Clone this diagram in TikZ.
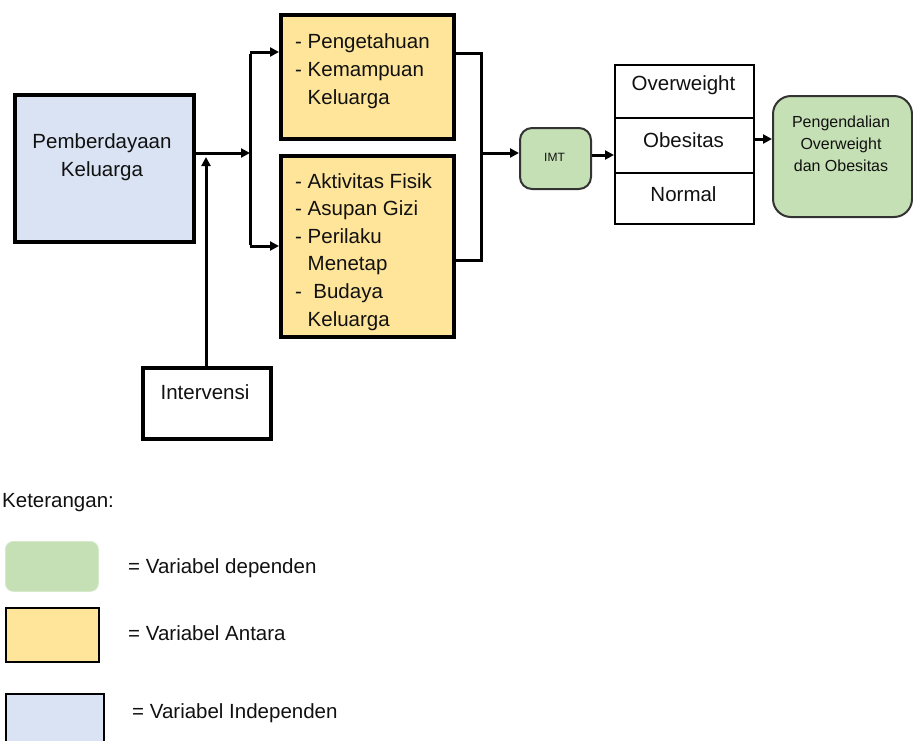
\documentclass[tikz,border=0pt]{standalone}
\usepackage{fontspec}
\setmainfont{Liberation Sans}
\usetikzlibrary{arrows.meta}
\definecolor{bluef}{HTML}{DAE3F3}
\definecolor{yelf}{HTML}{FFE599}
\definecolor{grnf}{HTML}{C5E0B4}
\definecolor{txt}{HTML}{111111}
\tikzset{
  box/.style={draw=black, line width=3.5pt, inner sep=0pt, anchor=north west},
  thinbox/.style={draw=black, line width=1.8pt, inner sep=0pt, anchor=north west},
  rbox/.style={draw=black!80, line width=2pt, rounded corners=12pt, fill=grnf, inner sep=0pt, anchor=north west},
  lbl/.style={font=\fontsize{20.5}{28}\selectfont, text=txt, inner sep=0pt},
  conn/.style={line width=3pt},
  arr/.style={line width=3pt, -{Triangle[length=9pt,width=9pt]}},
}
\begin{document}
\begin{tikzpicture}[x=1pt,y=-1pt]
\useasboundingbox (0,0) rectangle (913,740);
% main boxes
\node[box, fill=bluef, minimum width=179pt, minimum height=147pt] (pk) at (13,93) {};
\node[lbl, align=center] (pkt) at (102,157) {Pemberdayaan\\Keluarga};
\node[box, fill=yelf, minimum width=173pt, minimum height=124pt] (b1) at (279,13) {};
\node[lbl, align=left, anchor=north west] (b1t) at (295,33) {- Pengetahuan\\- Kemampuan\\\phantom{- }Keluarga};
\node[box, fill=yelf, minimum width=173pt, minimum height=181pt] (b2) at (279,154) {};
\node[lbl, align=left, anchor=north west, font=\fontsize{20.5}{27.6}\selectfont] (b2t) at (295,173) {- Aktivitas Fisik\\- Asupan Gizi\\- Perilaku\\\phantom{- }Menetap\\- \ Budaya\\\phantom{- }Keluarga};
\node[box, fill=white, minimum width=128pt, minimum height=71pt] (iv) at (141,366) {};
\node[lbl] (ivt) at (205,392) {Intervensi};
\node[rbox, minimum width=71pt, minimum height=61pt] (imt) at (519,127) {};
\node[lbl, font=\fontsize{12}{14}\selectfont] (imtt) at (554.5,157) {IMT};
% table
\node[thinbox, minimum width=139pt, minimum height=53pt] (ow) at (614,64) {};
\node[thinbox, minimum width=139pt, minimum height=55pt] (ob) at (614,117) {};
\node[thinbox, minimum width=139pt, minimum height=51pt] (no) at (614,172) {};
\node[lbl] (owt) at (683.5,85) {Overweight};
\node[lbl] (obt) at (683.5,140) {Obesitas};
\node[lbl] (not) at (683.5,194) {Normal};
\node[rbox, rounded corners=18pt, minimum width=139pt, minimum height=121pt] (pg) at (772,95) {};
\node[lbl, align=center, font=\fontsize{16}{22}\selectfont] (pgt) at (841,144) {Pengendalian\\Overweight\\dan Obesitas};
% connectors
\coordinate (j1) at (250,153);
\coordinate (top) at (250,52);
\coordinate (bot) at (250,246);
\coordinate (ji) at (206,157);
\draw[arr] (pk.east |- j1) -- (j1);
\draw[conn] ([yshift=-1.5pt]top) -- ([yshift=1.5pt]bot);
\draw[arr] (top) -- (b1.west |- top);
\draw[arr] (bot) -- (b2.west |- bot);
\draw[arr] (iv.north -| ji) -- (ji);
\coordinate (r1) at (481,53);
\coordinate (r2) at (481,260);
\coordinate (rm) at (481,153);
\draw[conn] (b1.east |- r1) -- (r1) -- (r2) -- (b2.east |- r2);
\draw[arr] (rm) -- (imt.west |- rm);
\coordinate (m2) at (590,155);
\draw[arr] (imt.east |- m2) -- (ob.west |- m2);
\coordinate (m3) at (753,139);
\draw[arr] (ob.east |- m3) -- (pg.west |- m3);
% legend
\node[lbl, anchor=west] (ket) at (2,503) {Keterangan:};
\node[draw=grnf!70!white, line width=0.8pt, fill=grnf, rounded corners=8pt, minimum width=93pt, minimum height=50pt, inner sep=0pt, anchor=north west] (lg) at (5,541) {};
\node[thinbox, fill=yelf, minimum width=93pt, minimum height=54pt] (ly) at (5,607) {};
\node[thinbox, fill=bluef, minimum width=98pt, minimum height=55pt] (lb) at (5,693) {};
\node[lbl, anchor=west] (lgt) at (128,568) {= Variabel dependen};
\node[lbl, anchor=west] (lyt) at (128,633) {= Variabel Antara};
\node[lbl, anchor=west] (lbt) at (132,713) {= Variabel Independen};
\end{tikzpicture}
\end{document}
